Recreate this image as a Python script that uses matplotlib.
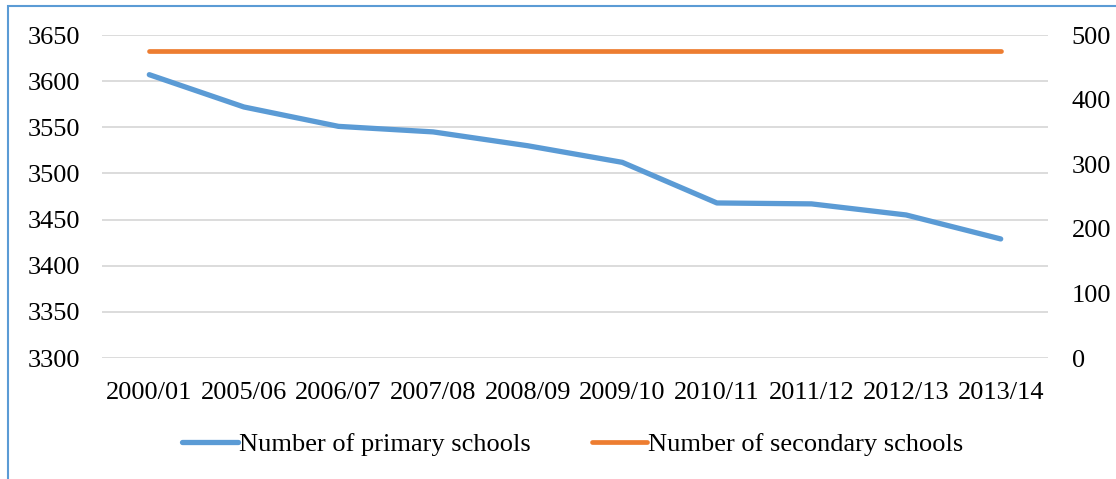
import matplotlib
matplotlib.use("Agg")
import matplotlib.pyplot as plt
from matplotlib.patches import Rectangle

years = ["2000/01", "2005/06", "2006/07", "2007/08", "2008/09",
         "2009/10", "2010/11", "2011/12", "2012/13", "2013/14"]
primary = [3607, 3572, 3551, 3545, 3530, 3512, 3468, 3467, 3455, 3429]
secondary = [475, 475, 475, 475, 475, 475, 475, 475, 475, 475]

plt.rcParams['font.family'] = ['Liberation Serif', 'DejaVu Serif']
FS = 19

W, H = 1116, 479
fig = plt.figure(figsize=(W / 100, H / 100), dpi=100)
fig.patch.set_facecolor('white')
fig.patches.append(Rectangle((8 / W, -0.1), 1.2, 1 - 6 / H + 0.1,
                             transform=fig.transFigure, fill=False,
                             edgecolor='#5b9bd5', linewidth=1.5))

ax = fig.add_axes([102 / W, 1 - 358 / H, (1048 - 102) / W, (358 - 35) / H])
ax2 = ax.twinx()

x = list(range(len(years)))
l1, = ax.plot(x, primary, color='#5b9bd5', lw=3.8, solid_capstyle='round',
              solid_joinstyle='round', label='Number of primary schools', zorder=3)
l2, = ax2.plot(x, secondary, color='#ed7d31', lw=3.4, solid_capstyle='round',
               label='Number of secondary schools', zorder=3)

ax.set_xlim(-0.5, len(years) - 0.5)
ax.set_ylim(3300, 3650)
ax.set_yticks(range(3300, 3651, 50))
ax2.set_ylim(0, 500)
ax2.set_yticks(range(0, 501, 100))
ax.set_xticks(x)
ax.set_xticklabels(years)

ax.grid(axis='y', color='#d9d9d9', lw=1.3)
ax.set_axisbelow(True)
for a in (ax, ax2):
    for s in a.spines.values():
        s.set_visible(False)
    a.tick_params(length=0, labelsize=FS, colors='#000000')
ax.tick_params(axis='y', pad=16)
ax2.tick_params(axis='y', pad=17)
ax.tick_params(axis='x', pad=17)

fig.legend(handles=[l1, l2], loc='center', bbox_to_anchor=(573 / W, 1 - 444 / H),
           ncol=2, frameon=False, fontsize=FS, handlelength=2.1,
           handletextpad=0.05, columnspacing=2.3)

fig.savefig('out.png', dpi=100)
